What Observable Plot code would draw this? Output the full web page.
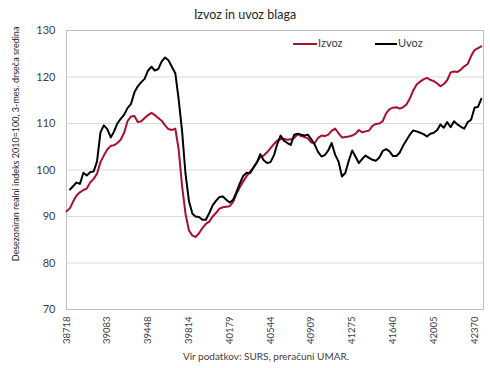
<!DOCTYPE html>
<html><head><meta charset="utf-8">
<script src="https://cdn.jsdelivr.net/npm/d3@7"></script>
<script src="https://cdn.jsdelivr.net/npm/@observablehq/plot@0.6"></script>
<style>
body{margin:0;background:#fff;}
#wrap{position:relative;width:490px;height:368px;font-family:Lato,"Open Sans",sans-serif;color:#404040;overflow:hidden;}
#title{position:absolute;left:0;width:490px;top:8px;text-align:center;font-size:12.5px;line-height:14px;color:#262626;}
#chart{position:absolute;left:0;top:22px;}
#cap{position:absolute;left:116px;width:300px;top:350px;text-align:center;font-size:10px;line-height:12px;color:#404040;}
#ylab{position:absolute;left:15px;top:144px;transform:translate(-50%,-50%) rotate(-90deg);white-space:nowrap;font-size:9px;line-height:11px;color:#262626;}
.lg{position:absolute;font-size:11px;line-height:12px;color:#404040;}
.sw{position:absolute;height:2px;}
</style>
</head><body>
<div id="wrap">
  <div id="title">Izvoz in uvoz blaga</div>
  <div id="chart"></div>
  <div id="ylab">Desezoniran realni indeks 2010=100, 3-mes. drseča sredina</div>
  <div class="sw" style="left:293px;top:43px;width:24px;background:#a8102e"></div>
  <div class="lg" style="left:318px;top:37px">Izvoz</div>
  <div class="sw" style="left:375px;top:43px;width:22px;background:#000"></div>
  <div class="lg" style="left:398px;top:37px">Uvoz</div>
  <div id="cap">Vir podatkov: SURS, preračuni UMAR.</div>
</div>
<script>
// Monthly data from Jan 2006 (Excel serial 38718)
const seriesNames = ["Izvoz", "Uvoz"];
const izvoz = [91.1,91.8,93.2,94.5,95.2,95.7,96.0,97.3,98.1,99.2,101.7,103.1,104.4,105.2,105.3,105.8,106.5,108.0,110.5,111.5,
111.6,110.3,110.5,111.2,111.8,112.3,111.8,111.2,110.6,109.6,108.8,108.6,108.9,104.4,96.4,90.6,87.0,85.9,85.6,86.4,
87.5,88.4,88.9,90.0,90.8,91.7,92.0,92.1,92.2,93.2,94.8,96.3,97.5,98.7,99.6,100.5,101.7,102.8,103.1,103.8,
104.7,105.6,106.3,106.6,106.7,106.5,106.6,106.9,107.7,107.3,107.1,106.8,105.9,105.8,106.9,107.4,107.3,107.6,108.4,108.9,
107.9,107.0,107.1,107.2,107.4,107.8,108.6,108.1,108.3,108.5,109.5,109.9,110.0,110.5,112.2,113.1,113.4,113.5,113.2,113.5,
114.1,115.4,117.1,118.4,119.0,119.5,119.8,119.4,119.1,118.6,118.0,118.5,119.3,121.0,121.2,121.1,121.6,122.3,122.8,124.5,
125.8,126.2,126.6];
const uvoz = [null,95.8,96.5,97.3,97.0,99.4,98.8,99.5,99.7,101.8,108.1,109.6,108.8,107.0,108.2,110.0,111.0,111.9,113.3,114.2,
116.7,118.0,118.9,119.6,121.4,122.2,121.4,121.7,123.3,124.2,123.6,122.2,120.8,115.2,108.2,99.2,93.3,90.6,90.0,89.9,
89.3,89.3,90.7,92.4,93.4,94.2,94.3,93.6,93.0,93.6,95.2,97.1,98.7,99.4,99.3,100.5,101.6,103.4,102.1,101.5,
101.7,103.2,105.5,107.4,106.3,105.8,105.4,107.6,107.8,107.6,107.4,107.6,106.6,105.4,103.9,102.9,103.2,104.2,105.8,103.3,
101.8,98.6,99.4,102.0,104.2,102.8,101.5,102.4,103.1,102.6,102.2,102.0,102.7,104.1,104.5,104.0,103.0,103.0,103.7,105.2,
106.4,107.6,108.5,108.3,108.0,107.7,107.2,107.8,108.0,108.6,109.8,109.1,110.3,109.2,110.5,109.8,109.3,108.9,110.3,110.8,
113.4,113.6,115.3];
const xTicks = [38718, 39083, 39448, 39814, 40179, 40544, 40909, 41275, 41640, 42005, 42370];
const yTicks = [70, 80, 90, 100, 110, 120, 130];
const yGrid = [80, 90, 100, 110, 120];
const colors = ["#a8102e", "#000000"];

const excelBase = Date.UTC(1899, 11, 30);
const serial = i => Math.round((Date.UTC(2006, i, 1) - excelBase) / 864e5);
const rows = [];
[izvoz, uvoz].forEach((arr, k) => arr.forEach((v, i) => {
  if (v != null) rows.push({x: serial(i), y: v, s: seriesNames[k]});
}));

const chart = Plot.plot({
  width: 490, height: 325,
  marginLeft: 66, marginRight: 7, marginTop: 8, marginBottom: 38,
  style: {fontFamily: "Lato, 'Open Sans', sans-serif", color: "#404040", background: "transparent", overflow: "visible"},
  x: {domain: [38718, 42450]},
  y: {domain: [70, 130]},
  color: {domain: seriesNames, range: colors},
  marks: [
    Plot.ruleY(yGrid, {stroke: "#d9d9d9", strokeWidth: 1}),
    Plot.frame({stroke: "#bfbfbf"}),
    Plot.axisY({ticks: yTicks, tickSize: 0, tickPadding: 11, fontSize: 11, label: null}),
    Plot.axisX({ticks: xTicks, tickFormat: d => String(d), tickRotate: -90, tickSize: 0, tickPadding: 7, fontSize: 9.5, label: null}),
    Plot.line(rows, {x: "x", y: "y", z: "s", stroke: "s", strokeWidth: 2, strokeLinejoin: "round"})
  ]
});
document.getElementById("chart").appendChild(chart);
</script>
</body></html>
